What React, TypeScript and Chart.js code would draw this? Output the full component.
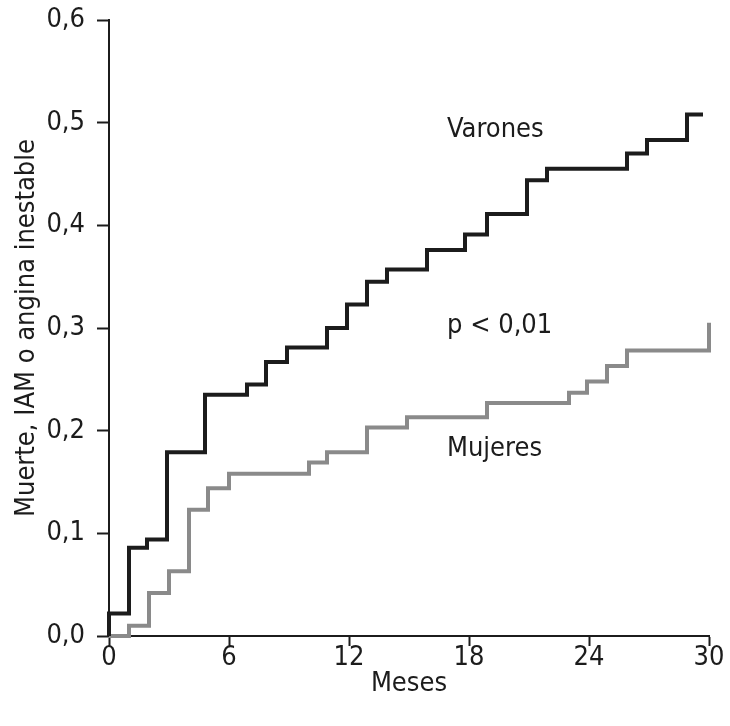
import React, { useEffect, useRef } from 'react';
import { Chart, registerables } from 'chart.js';

Chart.register(...registerables);

// Kaplan-Meier style step data (months, cumulative event rate)
const varonesX = [0, 0, 1, 1.9, 2.9, 4.8, 6.9, 7.85, 8.9, 10.9, 11.9, 12.9, 13.9, 15.9, 17.8, 18.9, 20.9, 21.9, 25.9, 26.9, 28.9, 29.7];
const varonesY = [0, 0.022, 0.086, 0.094, 0.179, 0.235, 0.245, 0.267, 0.281, 0.300, 0.323, 0.345, 0.357, 0.376, 0.391, 0.411, 0.444, 0.455, 0.470, 0.483, 0.508, 0.508];
const mujeresX = [0, 1, 2, 3, 4, 4.95, 6, 10, 10.9, 12.9, 14.9, 18.9, 23, 23.9, 24.9, 25.9, 30, 30];
const mujeresY = [0, 0.010, 0.042, 0.063, 0.123, 0.144, 0.158, 0.169, 0.179, 0.203, 0.213, 0.227, 0.237, 0.248, 0.263, 0.278, 0.278, 0.305];

const xTicks = [0, 6, 12, 18, 24, 30];
const yTicks = [0, 0.1, 0.2, 0.3, 0.4, 0.5, 0.6];

const annotTexts = ['Varones', 'p < 0,01', 'Mujeres'];
const annotX = [16.9, 16.9, 16.9];
const annotY = [0.486, 0.295, 0.175];

const FONT = '"DejaVu Sans Condensed", "Liberation Sans Narrow", sans-serif';
const FS = 27;
const TEXT = '#1c1c1c';

export default function App() {
  const ref = useRef<HTMLCanvasElement | null>(null);

  useEffect(() => {
    if (!ref.current) return;
    const annotPlugin = {
      id: 'annot',
      afterDatasetsDraw(chart: any) {
        const { ctx, scales } = chart;
        ctx.save();
        ctx.font = `${FS}px ${FONT}`;
        ctx.fillStyle = TEXT;
        ctx.textAlign = 'left';
        ctx.textBaseline = 'alphabetic';
        annotTexts.forEach((t, i) => {
          ctx.fillText(t, scales.x.getPixelForValue(annotX[i]), scales.y.getPixelForValue(annotY[i]));
        });
        ctx.restore();
      },
    };

    const chart = new Chart(ref.current, {
      type: 'line',
      data: {
        datasets: [
          {
            label: 'Varones',
            data: varonesX.map((x, i) => ({ x, y: varonesY[i] })),
            borderColor: '#1c1c1c',
            borderWidth: 4,
            stepped: true,
            pointRadius: 0,
            borderJoinStyle: 'miter',
            borderCapStyle: 'butt',
            fill: false,
            clip: false as any,
          },
          {
            label: 'Mujeres',
            data: mujeresX.map((x, i) => ({ x, y: mujeresY[i] })),
            borderColor: '#8a8a8a',
            borderWidth: 4,
            stepped: true,
            pointRadius: 0,
            borderJoinStyle: 'miter',
            borderCapStyle: 'butt',
            fill: false,
            clip: false as any,
          },
        ],
      },
      options: {
        animation: false,
        responsive: false,
        events: [],
        layout: { padding: { top: 20, right: 21, left: 0, bottom: 0 } },
        plugins: { legend: { display: false }, tooltip: { enabled: false } },
        scales: {
          x: {
            type: 'linear',
            min: 0,
            max: 30,
            afterBuildTicks: (s: any) => { s.ticks = xTicks.map((v) => ({ value: v })); },
            afterFit: (s: any) => { s.height = 90; s.paddingLeft = 0; s.paddingRight = 0; },
            border: { display: true, color: '#1c1c1c', width: 2 },
            grid: { display: true, drawOnChartArea: false, drawTicks: true, tickLength: 10, tickColor: '#1c1c1c', tickWidth: 2 },
            ticks: { color: TEXT, font: { family: FONT, size: FS, lineHeight: 0.8 }, padding: 1, maxRotation: 0 },
            title: { display: true, text: 'Meses', color: TEXT, font: { family: FONT, size: FS, lineHeight: 1.2 }, padding: { top: 0, bottom: 26 } },
          },
          y: {
            type: 'linear',
            min: 0,
            max: 0.6,
            afterBuildTicks: (s: any) => { s.ticks = yTicks.map((v) => ({ value: v })); },
            afterFit: (s: any) => { s.width = 109; s.paddingTop = 0; s.paddingBottom = 0; },
            border: { display: true, color: '#1c1c1c', width: 2 },
            grid: { display: true, drawOnChartArea: false, drawTicks: true, tickLength: 12, tickColor: '#1c1c1c', tickWidth: 2 },
            ticks: {
              color: TEXT,
              font: { family: FONT, size: FS, lineHeight: 1.0 },
              padding: 12,
              callback: (v: any) => Number(v).toFixed(1).replace('.', ','),
            },
            title: { display: true, text: 'Muerte, IAM o angina inestable', color: TEXT, font: { family: FONT, size: FS, lineHeight: 1.2 }, padding: { top: 11, bottom: 0 } },
          },
        },
      },
      plugins: [annotPlugin],
    });
    return () => chart.destroy();
  }, []);

  return (
    <div style={{ position: 'fixed', left: 0, top: 0, width: 730, height: 726, background: '#fff' }}>
      <canvas ref={ref} width={730} height={726} style={{ width: 730, height: 726 }} />
    </div>
  );
}
